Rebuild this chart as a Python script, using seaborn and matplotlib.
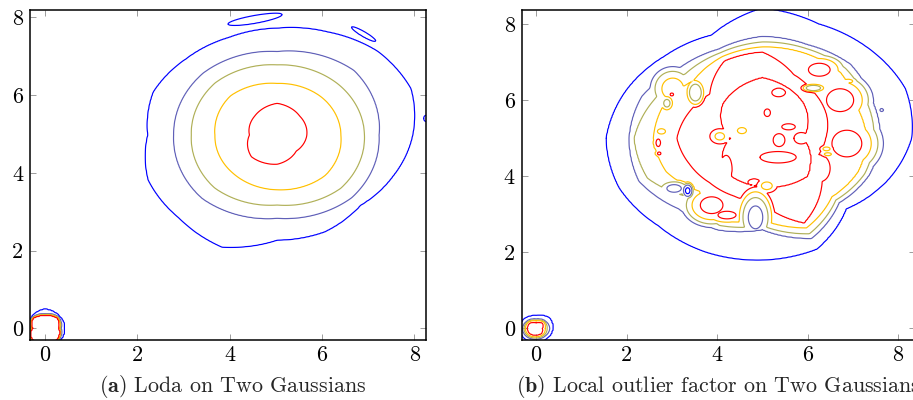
import numpy as np
import matplotlib
matplotlib.use("Agg")
import matplotlib.pyplot as plt
import seaborn as sns

# ------------------------------------------------------------------ data
LEVELS = [1, 2, 3, 4, 5]
LEVEL_COLORS = ["#0000ff", "#6060b8", "#b0b058", "#ffc000", "#ff0000"]
XTICKS = [0, 2, 4, 6, 8]
YTICKS = [0, 2, 4, 6, 8]
CAPTIONS = [r"$\mathbf{(a)}$ Loda on Two Gaussians",
            r"$\mathbf{(b)}$ Local outlier factor on Two Gaussians"]

# Loda: radius of each contour level (blue, slate, olive, gold, red) around the big cluster,
# read at equally spaced angles starting at 0 deg (counter-clockwise)
LODA_CENTER = (5.03, 4.97)
LODA_BLUE = [2.93, 3.13, 3.06, 2.87, 2.75, 2.72, 2.78, 2.90, 2.80, 3.02, 3.01, 3.12, 2.70, 2.69, 2.55, 2.72]
LODA_SLATE = [2.20, 2.35, 2.15, 2.26, 2.24, 2.30, 2.14, 2.28]
LODA_OLIVE = [1.89, 1.86, 1.81, 1.90, 1.86, 1.92, 1.80, 1.94]
LODA_GOLD = [1.38, 1.37, 1.33, 1.43, 1.35, 1.37, 1.41, 1.47]
LODA_RED = [0.64, 0.69, 0.82, 0.69, 0.60, 0.79, 0.75, 0.58]
# Loda small cluster at the origin
LODA_SMALL_CENTER = (0.0, 0.0)
LODA_SMALL_BLUE = [0.42, 0.44, 0.49, 0.40, 0.31, 0.45, 0.45, 0.45]
LODA_SMALL_SLATE = [0.35, 0.42, 0.37, 0.39, 0.30, 0.43, 0.43, 0.43]
LODA_SMALL_OLIVE = [0.33, 0.40, 0.35, 0.38, 0.29, 0.42, 0.42, 0.42]
LODA_SMALL_GOLD = [0.32, 0.39, 0.34, 0.37, 0.28, 0.41, 0.41, 0.41]
LODA_SMALL_RED = [0.31, 0.38, 0.33, 0.36, 0.27, 0.40, 0.40, 0.40]
# Loda isolated islands: x, y, half-width, half-height, tilt (deg), outline level, peak level
LODA_SPOT_X = [4.55, 6.90, 7.82, 8.25]
LODA_SPOT_Y = [7.95, 7.57, 4.76, 5.40]
LODA_SPOT_RX = [0.60, 0.32, 0.03, 0.05]
LODA_SPOT_RY = [0.10, 0.06, 0.10, 0.08]
LODA_SPOT_ANG = [12, -35, 0, 0]
LODA_SPOT_EDGE = [1, 1, 1, 1]
LODA_SPOT_TOP = [1.5, 1.5, 1.5, 1.5]

# LOF: same kind of level radii around the big cluster, plus an inner hole
LOF_CENTER = (5.0, 5.0)
LOF_BLUE = [3.30, 3.42, 3.33, 3.25, 3.42, 2.93, 3.05, 3.26, 3.45, 3.42, 3.25, 3.24, 3.20, 3.15, 2.62, 2.97]
LOF_SLATE = [2.60, 2.62, 2.75, 2.65, 2.67, 2.53, 2.60, 2.88, 2.94, 2.95, 2.62, 2.60, 2.40, 2.85, 2.40, 2.55]
LOF_OLIVE = [2.47, 2.50, 2.60, 2.55, 2.53, 2.43, 2.40, 2.60, 2.84, 2.75, 2.20, 2.48, 2.30, 2.72, 2.30, 2.45]
LOF_GOLD = [2.31, 2.25, 2.45, 2.43, 2.40, 2.32, 2.15, 2.35, 2.41, 2.30, 1.97, 2.35, 2.15, 2.55, 2.18, 2.30]
LOF_RED = [1.40, 1.54, 1.65, 1.81, 2.27, 2.20, 1.64, 1.76, 1.89, 1.75, 1.65, 1.64, 1.71, 2.42, 1.85, 1.30]
LOF_INNER = [0.91, 1.30, 1.60, 1.25, 0.70, 1.20, 1.28, 1.42]
LOF_SMALL_CENTER = (0.0, 0.0)
LOF_SMALL_BLUE = [0.36, 0.40, 0.33, 0.36, 0.36, 0.36, 0.35, 0.35]
LOF_SMALL_SLATE = [0.30, 0.28, 0.25, 0.28, 0.30, 0.30, 0.28, 0.28]
LOF_SMALL_OLIVE = [0.24, 0.26, 0.22, 0.26, 0.27, 0.27, 0.25, 0.25]
LOF_SMALL_GOLD = [0.20, 0.24, 0.20, 0.24, 0.24, 0.24, 0.22, 0.22]
LOF_SMALL_RED = [0.14, 0.20, 0.15, 0.20, 0.20, 0.20, 0.18, 0.18]
# LOF local loops: peaks (top > edge) and dips (top < edge)
LOF_SPOT_X = [6.72, 6.26, 6.87, 6.28, 3.88, 4.22, 5.36, 5.11, 5.58, 5.37, 5.86, 5.35, 4.82,
              4.20, 4.06, 3.02, 7.64, 5.10, 4.55, 3.00,
              2.77, 2.70, 2.72, 3.52, 2.89, 6.13, 6.90, 6.42, 6.45, 4.85, 3.05, 3.35]
LOF_SPOT_Y = [6.00, 6.80, 4.86, 4.21, 3.24, 2.98, 6.20, 5.67, 5.30, 4.95, 5.00, 4.50, 3.85,
              4.20, 5.05, 6.30, 5.74, 3.75, 5.20, 6.15,
              5.18, 4.88, 4.60, 6.20, 5.92, 6.32, 6.50, 4.72, 4.58, 2.92, 3.68, 3.62]
LOF_SPOT_RX = [0.30, 0.24, 0.33, 0.22, 0.25, 0.20, 0.15, 0.07, 0.15, 0.13, 0.16, 0.40, 0.13,
               0.13, 0.22, 0.24, 0.04, 0.12, 0.10, 0.04,
               0.09, 0.05, 0.04, 0.13, 0.07, 0.16, 0.10, 0.08, 0.08, 0.16, 0.16, 0.05]
LOF_SPOT_RY = [0.30, 0.17, 0.35, 0.35, 0.22, 0.10, 0.11, 0.10, 0.08, 0.17, 0.15, 0.15, 0.08,
               0.35, 0.20, 0.28, 0.04, 0.10, 0.08, 0.04,
               0.07, 0.10, 0.04, 0.22, 0.10, 0.07, 0.05, 0.05, 0.04, 0.30, 0.10, 0.08]
LOF_SPOT_ANG = [0] * 32
LOF_SPOT_EDGE = [5, 5, 5, 5, 5, 5, 5, 5, 5, 5, 5, 5, 5, 5, 5, 4, 2, 4, 4, 5,
                 4, 5, 5, 3, 3, 3, 4, 4, 4, 2, 2, 1]
LOF_SPOT_TOP = [5.6, 5.5, 5.6, 5.5, 5.5, 5.4, 5.3, 5.3, 5.3, 5.3, 5.3, 5.3, 5.3,
                5.3, 3.7, 4.6, 2.3, 3.6, 3.6, 5.3,
                3.6, 5.3, 5.3, 2.0, 2.5, 2.0, 4.4, 3.6, 3.6, 1.5, 1.5, 0.6]

# axis ranges
LODA_XLIM, LODA_YLIM = (-0.32, 8.25), (-0.29, 8.19)
LOF_XLIM, LOF_YLIM = (-0.32, 8.37), (-0.29, 8.37)


# ------------------------------------------------------------------ field helpers
def profile_radius(theta, prof):
    prof = np.asarray(prof, float)
    ang = np.linspace(0, 2 * np.pi, len(prof) + 1)
    return np.interp(theta, ang, np.append(prof, prof[0]))


def blob_field(X, Y, center, profiles, inner=None):
    dx, dy = X - center[0], Y - center[1]
    d = np.hypot(dx, dy)
    th = np.mod(np.arctan2(dy, dx), 2 * np.pi)
    rb, rs, ro, rg, rr = [profile_radius(th, p) for p in profiles]
    if inner is None:
        knots = [np.zeros_like(d), rr, rg, ro, rs, rb, rb + 1.5]
        vals = [6, 5, 4, 3, 2, 1, 0]
    else:
        ri = profile_radius(th, inner)
        knots = [np.zeros_like(d), ri, (ri + rr) / 2, rr, rg, ro, rs, rb, rb + 1.5]
        vals = [4.6, 5, 5.6, 5, 4, 3, 2, 1, 0]
    V = np.zeros_like(d)
    for k in range(len(knots) - 1):
        a, b = knots[k], knots[k + 1]
        m = (d >= a) & (d < b)
        t = (d - a) / np.maximum(b - a, 1e-9)
        V = np.where(m, vals[k] + t * (vals[k + 1] - vals[k]), V)
    return V


def apply_spots(V, X, Y, xs, ys, rxs, rys, angs, edges, tops):
    for x0, y0, rx, ry, a, e, t in zip(xs, ys, rxs, rys, angs, edges, tops):
        c, s = np.cos(np.radians(a)), np.sin(np.radians(a))
        u = ((X - x0) * c + (Y - y0) * s) / rx
        w = (-(X - x0) * s + (Y - y0) * c) / ry
        S = e + (t - e) * (1 - (u * u + w * w))
        V = np.maximum(V, S) if t > e else np.minimum(V, S)
    return V


gx = np.arange(-0.6, 8.8, 0.025)
gy = np.arange(-0.6, 8.8, 0.025)
X, Y = np.meshgrid(gx, gy)

loda = np.maximum(
    blob_field(X, Y, LODA_CENTER, [LODA_BLUE, LODA_SLATE, LODA_OLIVE, LODA_GOLD, LODA_RED]),
    blob_field(X, Y, LODA_SMALL_CENTER, [LODA_SMALL_BLUE, LODA_SMALL_SLATE, LODA_SMALL_OLIVE,
                                         LODA_SMALL_GOLD, LODA_SMALL_RED]))
loda = apply_spots(loda, X, Y, LODA_SPOT_X, LODA_SPOT_Y, LODA_SPOT_RX, LODA_SPOT_RY,
                   LODA_SPOT_ANG, LODA_SPOT_EDGE, LODA_SPOT_TOP)

lof = np.maximum(
    blob_field(X, Y, LOF_CENTER, [LOF_BLUE, LOF_SLATE, LOF_OLIVE, LOF_GOLD, LOF_RED], inner=LOF_INNER),
    blob_field(X, Y, LOF_SMALL_CENTER, [LOF_SMALL_BLUE, LOF_SMALL_SLATE, LOF_SMALL_OLIVE,
                                        LOF_SMALL_GOLD, LOF_SMALL_RED]))
lof = apply_spots(lof, X, Y, LOF_SPOT_X, LOF_SPOT_Y, LOF_SPOT_RX, LOF_SPOT_RY,
                  LOF_SPOT_ANG, LOF_SPOT_EDGE, LOF_SPOT_TOP)

# ------------------------------------------------------------------ style
sns.set_theme(style="ticks")
plt.rcParams["font.family"] = ["cmr10", "DejaVu Serif"]
plt.rcParams["mathtext.fontset"] = "cm"
plt.rcParams["axes.unicode_minus"] = False
plt.rcParams["axes.formatter.use_mathtext"] = True

W, H = 913, 400
fig = plt.figure(figsize=(W / 100, H / 100), dpi=100)
ax1 = fig.add_axes([30 / W, 1 - 339.5 / H, 396 / W, 329.5 / H])
ax2 = fig.add_axes([521.7 / W, 1 - 339.5 / H, 393 / W, 329.5 / H])

for ax, F, xl, yl in [(ax1, loda, LODA_XLIM, LODA_YLIM), (ax2, lof, LOF_XLIM, LOF_YLIM)]:
    ax.set_facecolor("white")
    ax.contour(X, Y, F, levels=LEVELS, colors=LEVEL_COLORS, linewidths=0.85)
    ax.set_xlim(*xl)
    ax.set_ylim(*yl)
    ax.set_xticks(XTICKS)
    ax.set_yticks(YTICKS)
    ax.set_xticklabels([str(v) for v in XTICKS])
    ax.set_yticklabels([str(v) for v in YTICKS])
    ax.tick_params(direction="in", top=True, right=True, length=4.5, width=0.6,
                   color="#8c8c8c", labelcolor="black", labelsize=16)
    ax.tick_params(axis="x", pad=4)
    ax.tick_params(axis="y", pad=5)
    for sp in ax.spines.values():
        sp.set_visible(True)
        sp.set_color("black")
        sp.set_linewidth(1.1)

fig.text(232.5 / W, 1 - 387 / H, CAPTIONS[0], ha="center", va="center", fontsize=15.8)
fig.text(718 / W, 1 - 387 / H, CAPTIONS[1], ha="center", va="center", fontsize=15.8)

fig.savefig("out.png", dpi=100, facecolor="white")
